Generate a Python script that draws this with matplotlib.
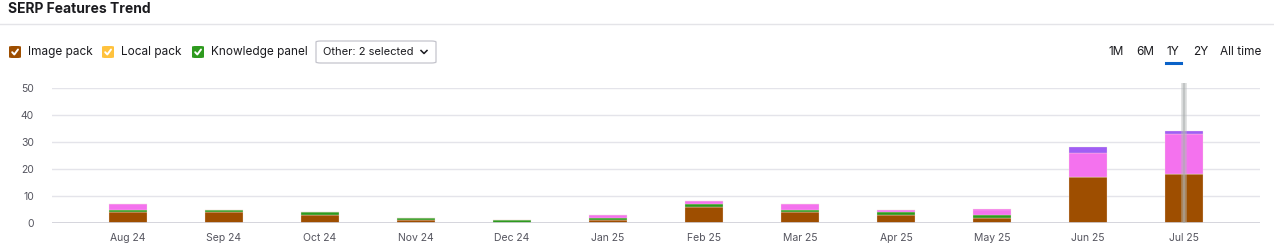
import matplotlib
matplotlib.use("Agg")
import matplotlib.pyplot as plt
from matplotlib.patches import FancyBboxPatch
import numpy as np

plt.rcParams['font.family'] = ['Inter', 'DejaVu Sans']

months = ['Aug 24', 'Sep 24', 'Oct 24', 'Nov 24', 'Dec 24', 'Jan 25',
          'Feb 25', 'Mar 25', 'Apr 25', 'May 25', 'Jun 25', 'Jul 25']
image_pack = [4, 4, 3, 1, 0, 1, 6, 4, 3, 2, 17, 18]
local_pack = [0, 0, 0, 0, 0, 0, 0, 0, 0, 0, 0, 0]
knowledge_panel = [1, 1, 1, 1, 1, 1, 1, 1, 1, 1, 0, 0]
other_pink = [2, 0, 0, 0, 0, 1, 1, 2, 1, 2, 9, 15]
other_purple = [0, 0, 0, 0, 0, 0, 0, 0, 0, 0, 2, 1]

series = [image_pack, local_pack, knowledge_panel, other_pink, other_purple]
colors = ['#9E4E00', '#FFC23D', '#2E9A1E', '#F472EE', '#A05EF4']

W, H = 1274, 248
fig = plt.figure(figsize=(W / 100, H / 100), dpi=100)


def fx(x):
    return x / W


def fy(y):
    return 1 - y / H


# header
fig.text(fx(8), fy(9), 'SERP Features Trend', fontsize=10, fontweight='bold',
         color='#1b1b1f', va='center', ha='left')
fig.add_artist(plt.Line2D([0, 1], [fy(24), fy(24)], color='#e4e4e8', lw=1))

# legend checkboxes
legend_items = [('Image pack', '#9E4E00', 9), ('Local pack', '#FFC23D', 102),
                ('Knowledge panel', '#2E9A1E', 192)]
for label, col, x0 in legend_items:
    box = FancyBboxPatch((fx(x0), fy(58)), fx(12), 12 / H,
                         boxstyle='round,pad=0,rounding_size=0.003',
                         transform=fig.transFigure, facecolor=col,
                         edgecolor='none')
    fig.add_artist(box)
    cx = [x0 + 3.2, x0 + 5.3, x0 + 9]
    cy = [52.2, 54.5, 49.5]
    fig.add_artist(plt.Line2D([fx(v) for v in cx], [fy(v) for v in cy],
                              color='white', lw=1.4, solid_capstyle='round'))
    fig.text(fx(x0 + 19), fy(52), label, fontsize=8.5, color='#1b1b1f',
             va='center', ha='left')

# dropdown
dd = FancyBboxPatch((fx(316), fy(63)), fx(120), 22 / H,
                    boxstyle='round,pad=0,rounding_size=0.004',
                    transform=fig.transFigure, facecolor='white',
                    edgecolor='#c4c4cc', lw=0.9)
fig.add_artist(dd)
fig.text(fx(323), fy(52), 'Other: 2 selected', fontsize=8, color='#1b1b1f',
         va='center', ha='left')
fig.add_artist(plt.Line2D([fx(421), fx(424), fx(427)],
                          [fy(50.5), fy(53.5), fy(50.5)], color='#1b1b1f', lw=1.1))

# period buttons
for label, x in [('1M', 1116), ('6M', 1145), ('1Y', 1173), ('2Y', 1201), ('All time', 1241)]:
    fig.text(fx(x), fy(52), label, fontsize=8.5, color='#1b1b1f',
             va='center', ha='center')
fig.add_artist(plt.Line2D([fx(1166), fx(1181)], [fy(63), fy(63)],
                          color='#0a62c8', lw=2.2))

# chart
ax = fig.add_axes([fx(52), fy(223), fx(1260 - 52), (223 - 88) / H])
x = np.arange(len(months))
bottom = np.zeros(len(months))
for vals, col in zip(series, colors):
    vals = np.array(vals, dtype=float)
    ax.bar(x, vals, width=0.4, bottom=bottom, color=col,
           edgecolor='#f4e8e0', linewidth=0.2, zorder=3)
    bottom += vals

ax.set_xlim(-0.79, len(months) - 1 + 0.79)
ax.set_ylim(0, 50)
ax.set_yticks([0, 10, 20, 30, 40, 50])
ax.set_xticks(x)
ax.set_xticklabels(months)
ax.grid(axis='y', color='#e4e4ea', lw=1, zorder=0)
ax.tick_params(axis='both', length=0, labelsize=7.5, labelcolor='#55555f')
ax.tick_params(axis='y', pad=13)
ax.tick_params(axis='x', pad=7)
for s in ax.spines.values():
    s.set_visible(False)
ax.axhline(0, color='#d0d0d8', lw=1.2, zorder=4)

# hover line on the last month
ax.plot([x[-1], x[-1]], [0, 51.8], color='#b8bcbc', lw=4, alpha=0.5,
        clip_on=False, zorder=5, solid_capstyle='butt')
ax.plot([x[-1], x[-1]], [0, 51.8], color='#a8acac', lw=1.5, alpha=0.5,
        clip_on=False, zorder=5, solid_capstyle='butt')

fig.savefig('out.png', dpi=100)
